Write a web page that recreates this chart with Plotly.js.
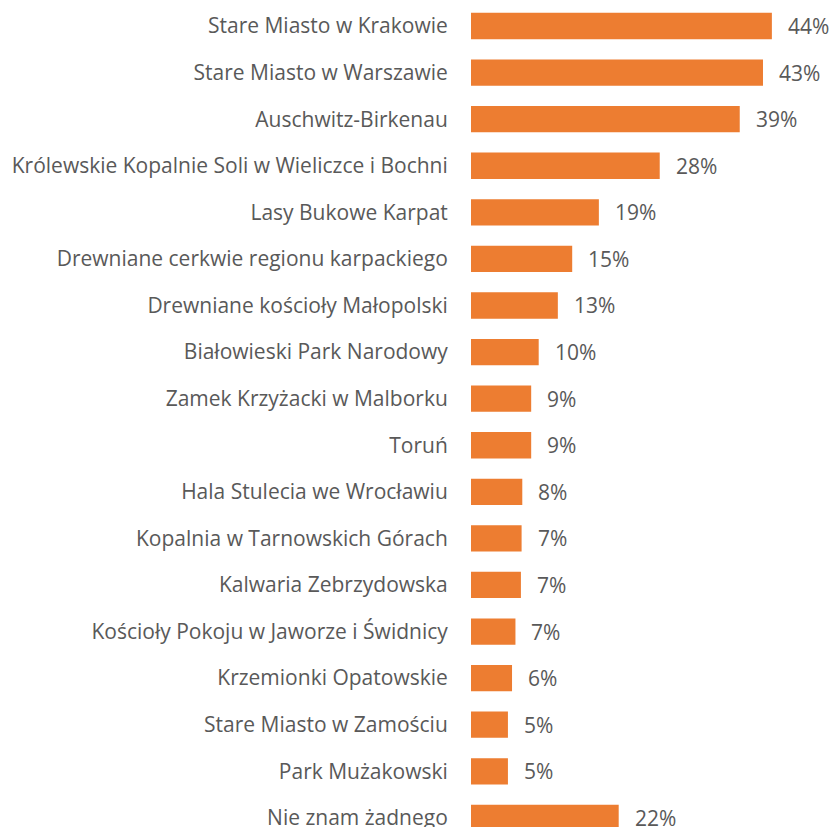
<!DOCTYPE html>
<html>
<head>
<meta charset="utf-8">
<script src="https://cdn.plot.ly/plotly-3.0.1.min.js"></script>
<style>html,body{margin:0;padding:0;background:#fff;}#chart{width:830px;height:827px;}</style>
</head>
<body>
<div id="chart"></div>
<script>
const categories = [
  "Stare Miasto w Krakowie",
  "Stare Miasto w Warszawie",
  "Auschwitz-Birkenau",
  "Królewskie Kopalnie Soli w Wieliczce i Bochni",
  "Lasy Bukowe Karpat",
  "Drewniane cerkwie regionu karpackiego",
  "Drewniane kościoły Małopolski",
  "Białowieski Park Narodowy",
  "Zamek Krzyżacki w Malborku",
  "Toruń",
  "Hala Stulecia we Wrocławiu",
  "Kopalnia w Tarnowskich Górach",
  "Kalwaria Zebrzydowska",
  "Kościoły Pokoju w Jaworze i Świdnicy",
  "Krzemionki Opatowskie",
  "Stare Miasto w Zamościu",
  "Park Mużakowski",
  "Nie znam żadnego"
];
const values = [44.0, 42.7, 39.3, 27.6, 18.7, 14.8, 12.7, 9.9, 8.8, 8.8, 7.5, 7.4, 7.3, 6.5, 6.0, 5.4, 5.4, 21.6];
const valueLabels = ["44%","43%","39%","28%","19%","15%","13%","10%","9%","9%","8%","7%","7%","7%","6%","5%","5%","22%"];

const fontFam = "'Open Sans', 'Noto Sans', sans-serif";
const textColor = "#595959";

const trace = {
  type: "bar",
  orientation: "h",
  x: values,
  y: categories,
  marker: {color: "#ED7D31"},
  width: 0.565,
  hoverinfo: "none"
};

const annotations = values.map((v, i) => ({
  x: v, y: categories[i], xref: "x", yref: "y",
  text: valueLabels[i], showarrow: false, xanchor: "left", yanchor: "middle",
  xshift: 14, font: {family: fontFam, size: 21, color: textColor}
}));

const layout = {
  width: 830, height: 827,
  margin: {l: 471, r: 0, t: 0, b: 0, pad: 0},
  paper_bgcolor: "#fff", plot_bgcolor: "#fff",
  showlegend: false,
  xaxis: {range: [0, 52.5], visible: false, fixedrange: true},
  yaxis: {
    type: "category",
    range: [17.196, -0.558],
    showgrid: false, zeroline: false, showline: false,
    ticks: "outside", ticklen: 18, tickcolor: "rgba(0,0,0,0)",
    tickfont: {family: fontFam, size: 21, color: textColor},
    automargin: false
  },
  annotations: annotations
};

Plotly.newPlot("chart", [trace], layout, {displayModeBar: false, staticPlot: true});
</script>
</body>
</html>
